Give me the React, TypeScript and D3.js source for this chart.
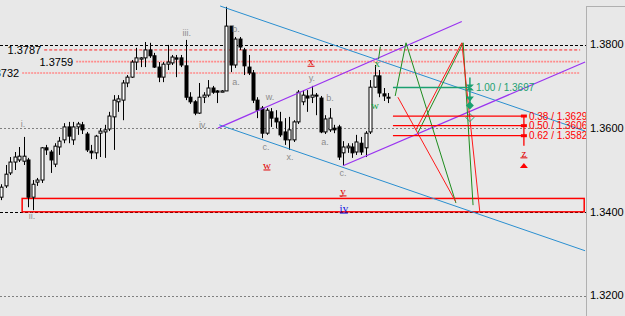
import React from 'react';
import * as d3 from 'd3';

const W = 625;
const H = 316;

// candle OHLC (one bar per period)
const opens = [
  1.3435, 1.3462, 1.3493, 1.3519, 1.3524, 1.3521, 1.3524, 1.3435, 1.3471, 1.3476,
  1.3553, 1.3543, 1.3514, 1.3555, 1.3572, 1.3603, 1.3572, 1.3603, 1.3608, 1.3586,
  1.3545, 1.3541, 1.3588, 1.3591, 1.3598, 1.3627, 1.3663, 1.3667, 1.3708, 1.3722,
  1.3758, 1.3765, 1.3768, 1.3787, 1.3773, 1.3746, 1.3722, 1.3753, 1.3756, 1.3768,
  1.3768, 1.3749, 1.3674, 1.3663, 1.3636, 1.3674, 1.3679, 1.3696, 1.3689, 1.3686,
  1.3689, 1.3844, 1.3751, 1.3813, 1.3787, 1.3746, 1.3732, 1.3667, 1.3648, 1.3588,
  1.3639, 1.3624, 1.3615, 1.3591, 1.3572, 1.3572, 1.3615, 1.3663, 1.3677, 1.3674,
  1.3679, 1.3672, 1.3591, 1.3596, 1.3600, 1.3603, 1.3541, 1.3553, 1.3555, 1.3543,
  1.3564, 1.3553, 1.3591, 1.3698, 1.3725, 1.3682, 1.3674,
];
const highs = [
  1.3466, 1.3512, 1.3531, 1.3543, 1.3555, 1.3579, 1.3529, 1.3476, 1.3481, 1.3555,
  1.3560, 1.3548, 1.3564, 1.3579, 1.3612, 1.3615, 1.3615, 1.3615, 1.3615, 1.3591,
  1.3560, 1.3584, 1.3600, 1.3608, 1.3639, 1.3679, 1.3679, 1.3715, 1.3727, 1.3763,
  1.3792, 1.3770, 1.3806, 1.3804, 1.3780, 1.3758, 1.3758, 1.3799, 1.3775, 1.3775,
  1.3775, 1.3811, 1.3686, 1.3667, 1.3708, 1.3686, 1.3715, 1.3701, 1.3691, 1.3691,
  1.3890, 1.3844, 1.3818, 1.3818, 1.3792, 1.3775, 1.3739, 1.3674, 1.3653, 1.3648,
  1.3648, 1.3643, 1.3639, 1.3624, 1.3627, 1.3619, 1.3691, 1.3691, 1.3691, 1.3701,
  1.3684, 1.3677, 1.3631, 1.3648, 1.3608, 1.3608, 1.3569, 1.3564, 1.3564, 1.3584,
  1.3579, 1.3593, 1.3715, 1.3751, 1.3739, 1.3696, 1.3684,
];
const lows = [
  1.3428, 1.3457, 1.3488, 1.3500, 1.3519, 1.3512, 1.3411, 1.3404, 1.3462, 1.3469,
  1.3536, 1.3493, 1.3507, 1.3536, 1.3564, 1.3564, 1.3560, 1.3584, 1.3586, 1.3543,
  1.3526, 1.3526, 1.3531, 1.3529, 1.3593, 1.3548, 1.3639, 1.3619, 1.3698, 1.3720,
  1.3739, 1.3746, 1.3746, 1.3768, 1.3744, 1.3710, 1.3710, 1.3739, 1.3751, 1.3722,
  1.3746, 1.3667, 1.3658, 1.3631, 1.3634, 1.3660, 1.3674, 1.3682, 1.3660, 1.3686,
  1.3689, 1.3734, 1.3744, 1.3787, 1.3727, 1.3727, 1.3660, 1.3624, 1.3576, 1.3584,
  1.3603, 1.3600, 1.3579, 1.3560, 1.3548, 1.3567, 1.3610, 1.3655, 1.3639, 1.3660,
  1.3631, 1.3588, 1.3586, 1.3591, 1.3588, 1.3524, 1.3512, 1.3541, 1.3529, 1.3536,
  1.3536, 1.3531, 1.3586, 1.3696, 1.3674, 1.3665, 1.3660,
];
const closes = [
  1.3459, 1.3490, 1.3519, 1.3531, 1.3533, 1.3533, 1.3435, 1.3466, 1.3476, 1.3553,
  1.3548, 1.3524, 1.3557, 1.3569, 1.3603, 1.3581, 1.3603, 1.3610, 1.3596, 1.3548,
  1.3541, 1.3581, 1.3593, 1.3596, 1.3629, 1.3667, 1.3670, 1.3708, 1.3722, 1.3758,
  1.3768, 1.3768, 1.3787, 1.3773, 1.3746, 1.3722, 1.3753, 1.3758, 1.3770, 1.3765,
  1.3751, 1.3674, 1.3663, 1.3636, 1.3674, 1.3679, 1.3696, 1.3686, 1.3686, 1.3689,
  1.3844, 1.3751, 1.3813, 1.3794, 1.3749, 1.3732, 1.3667, 1.3643, 1.3588, 1.3643,
  1.3624, 1.3615, 1.3584, 1.3572, 1.3596, 1.3615, 1.3686, 1.3679, 1.3672, 1.3679,
  1.3677, 1.3591, 1.3622, 1.3624, 1.3596, 1.3531, 1.3555, 1.3557, 1.3541, 1.3567,
  1.3543, 1.3588, 1.3698, 1.3725, 1.3684, 1.3677, 1.3674,
];

// price axis ticks
const priceTicks = [1.38, 1.36, 1.34, 1.32];
const blackGrid = [1.38, 1.34];
const grayGrid = [1.36, 1.32];

// labelled horizontal levels: [price, startBar]
const levelPrices = [1.3787, 1.3759, 1.3732];
const levelStarts = [9.6, 16.7, 4.7];
const levelEnd = 128.7;

// support box
const boxBars = [4.7, 129.6];
const boxPrices = [1.3432, 1.34];

// channels: [[bar, price],[bar, price]]
const blueLines = [
  [[48.7, 1.3892], [129.8, 1.3593]],
  [[48.5, 1.3608], [129.8, 1.3307]],
];
const purpleLines = [
  [[48.2, 1.36], [102.4, 1.3855]],
  [[76.0, 1.351], [129.8, 1.3758]],
];
// projection zigzags
const greenPaths = [
  [[87.6, 1.3677], [90.0, 1.3804], [101.1, 1.3421]],
  [[92.6, 1.3588], [102.7, 1.3804], [104.9, 1.3416]],
  [[84.3, 1.3795], [83.9, 1.3765]],
];
const redPaths = [
  [[88.2, 1.3674], [101.0, 1.3425]],
  [[92.2, 1.3596], [102.4, 1.3804], [106.4, 1.34]],
];

// fibonacci retracement (red) and extension (teal)
const fibLevels = ['0.38', '0.50', '0.62'];
const fibPrices = [1.3629, 1.3606, 1.3582];
const fibBars = [87.1, 116.2];
const extLevel = '1.00';
const extPrice = 1.3697;
const extBars = [87.1, 104.2];

// wave labels [bar, price, text]
const grayLabels: [number, number, string][] = [
  [4.9, 1.361, 'i.'],
  [6.9, 1.339, 'ii.'],
  [41.3, 1.3827, 'iii.'],
  [44.9, 1.3608, 'iv.'],
  [52.2, 1.3837, 'b.'],
  [52.2, 1.371, 'a.'],
  [59.8, 1.3674, 'w.'],
  [58.9, 1.3555, 'c.'],
  [64.2, 1.3531, 'x.'],
  [69.1, 1.372, 'y.'],
  [73.1, 1.3672, 'b.'],
  [72.0, 1.3567, 'a.'],
  [76.0, 1.3493, 'c.'],
];
const redLabels: [number, number, string][] = [
  [59.1, 1.3512, 'w'],
  [76.0, 1.345, 'y'],
  [68.9, 1.376, 'x'],
  [116.2, 1.3541, 'z'],
];
const blueLabels: [number, number, string][] = [[76.2, 1.3409, 'iv']];
const greenLabels: [number, number, string][] = [
  [83.6, 1.3756, 'x'],
  [83.1, 1.3655, 'w'],
];

const x = d3.scaleLinear().domain([0, 86]).range([1, 388]);
const y = d3.scaleLinear().domain([1.32, 1.38]).range([295.5, 44.5]);

const BLUE = '#2a8fd0';
const PURPLE = '#9a34f0';
const GREEN = '#1e8c1e';
const RED = '#ff1a1a';
const TEAL = '#1aa070';
const SANS = "'Liberation Sans', Arial, sans-serif";
const SERIF = "'Liberation Serif', 'Times New Roman', serif";

export default function App() {
  const line = d3
    .line<number[]>()
    .x((d) => x(d[0]))
    .y((d) => y(d[1]));
  const axisX = 586.5;
  const fx = x(fibBars[1]);
  const ex = x(extBars[1]);
  return (
    <svg
      width={W}
      height={H}
      style={{ position: 'absolute', left: 0, top: 0, background: '#e8e8e8' }}
    >
      <rect x={0} y={0} width={W} height={H} fill="#e8e8e8" />
      {/* grid */}
      {blackGrid.map((p) => (
        <line key={'bg' + p} x1={0} x2={axisX} y1={Math.round(y(p)) + 0.5} y2={Math.round(y(p)) + 0.5}
          stroke="#000" strokeWidth={1} strokeDasharray="3,2" />
      ))}
      {grayGrid.map((p) => (
        <line key={'gg' + p} x1={0} x2={axisX} y1={Math.round(y(p)) + 0.5} y2={Math.round(y(p)) + 0.5}
          stroke="#808080" strokeWidth={1} strokeDasharray="2,2" />
      ))}
      {/* labelled levels */}
      {levelPrices.map((p, i) => (
        <g key={'lv' + i}>
          <line x1={x(levelStarts[i])} x2={x(levelEnd)} y1={y(p)} y2={y(p)}
            stroke={i === 0 ? '#ff2020' : '#ff8a8a'} strokeWidth={i === 0 ? 1 : 1.6}
            strokeDasharray={i === 0 ? '3,2' : '2,1'} />
          <text x={x(levelStarts[i]) - 3} y={y(p)} dy="0.35em" textAnchor="end"
            fontFamily={SANS} fontSize={11} fill="#000">{p.toFixed(4)}</text>
        </g>
      ))}
      {/* box */}
      <rect x={x(boxBars[0])} y={y(boxPrices[0])} width={x(boxBars[1]) - x(boxBars[0])}
        height={y(boxPrices[1]) - y(boxPrices[0])} fill="none" stroke="#ff0000" strokeWidth={1.5} />
      {/* candles */}
      {opens.map((o, i) => {
        const c = closes[i];
        const cx = Math.round(x(i)) + 0.5;
        const top = Math.min(y(o), y(c));
        const bh = Math.max(1, Math.abs(y(o) - y(c)));
        const up = c >= o;
        return (
          <g key={'c' + i}>
            <line x1={cx} x2={cx} y1={y(highs[i])} y2={y(lows[i])} stroke="#000" strokeWidth={1} />
            <rect x={cx - 1.5} y={top} width={3} height={bh} fill={up ? '#fff' : '#000'}
              stroke="#000" strokeWidth={1} />
          </g>
        );
      })}
      {/* channels */}
      {blueLines.map((l, i) => (
        <path key={'bl' + i} d={line(l) || ''} stroke={BLUE} strokeWidth={1} fill="none" />
      ))}
      {purpleLines.map((l, i) => (
        <path key={'pl' + i} d={line(l) || ''} stroke={PURPLE} strokeWidth={1.2} fill="none" />
      ))}
      {greenPaths.map((l, i) => (
        <path key={'gp' + i} d={line(l) || ''} stroke={GREEN} strokeWidth={1} fill="none" />
      ))}
      {redPaths.map((l, i) => (
        <path key={'rp' + i} d={line(l) || ''} stroke={RED} strokeWidth={1} fill="none" />
      ))}
      {/* extension fib (teal) */}
      <line x1={x(extBars[0])} x2={ex} y1={y(extPrice)} y2={y(extPrice)} stroke={TEAL} strokeWidth={1.5} />
      <line x1={ex} x2={ex} y1={y(extPrice) - 10} y2={y(extPrice) + 20} stroke={TEAL} strokeWidth={1.5} />
      <path d={`M${ex - 4},${y(extPrice) - 3}h8l-4,4z M${ex - 4},${y(extPrice) + 3}h8l-4,-4z`} fill={TEAL} />
      <path d={`M${ex - 4},${y(extPrice) + 9}h8l-4,5z`} fill={TEAL} />
      <path d={`M${ex},${y(extPrice) + 14}l4,4l-4,4l-4,-4z`} fill={TEAL} />
      <path d={`M${ex},${y(extPrice) + 26}l4,4l-4,4l-4,-4z`} fill="none" stroke={TEAL} strokeWidth={1} />
      <text x={ex + 6} y={y(extPrice)} dy="0.35em" fontFamily={SANS} fontSize={10} fill={TEAL}>
        {extLevel} / {extPrice.toFixed(4)}
      </text>
      {/* retracement fib (red) */}
      {fibPrices.map((p, i) => (
        <g key={'fb' + i}>
          <line x1={x(fibBars[0])} x2={fx} y1={y(p)} y2={y(p)} stroke="#ff0000" strokeWidth={1.3} />
          <rect x={fx - 3} y={y(p) - 1.5} width={6} height={3} fill="#ff0000" />
          <text x={fx + 5} y={y(p)} dy="0.35em" fontFamily={SANS} fontSize={10} fill="#ff0000">
            {fibLevels[i]} / {p.toFixed(4)}
          </text>
        </g>
      ))}
      <line x1={fx} x2={fx} y1={y(fibPrices[0])} y2={y(fibPrices[2]) + 10} stroke="#ff0000" strokeWidth={1.3} />
      <path d={`M${fx - 4},${y(1.3512) + 3}h8l-4,-5z`} fill="#ff0000" />
      {/* labels */}
      {grayLabels.map(([b, p, t], i) => (
        <text key={'gl' + i} x={x(b)} y={y(p)} dy="0.35em" textAnchor="middle" fontFamily={SANS}
          fontSize={9} fill="#8c8c8c">{t}</text>
      ))}
      {redLabels.map(([b, p, t], i) => (
        <g key={'rl' + i}>
          <text x={x(b)} y={y(p)} dy="0.35em" textAnchor="middle" fontFamily={SERIF} fontSize={11}
            fill="#e00000">{t}</text>
          <line x1={x(b) - 3.5} x2={x(b) + 3.5} y1={y(p) + 5} y2={y(p) + 5} stroke="#e00000" strokeWidth={1} />
        </g>
      ))}
      {blueLabels.map(([b, p, t], i) => (
        <g key={'bll' + i}>
          <text x={x(b)} y={y(p)} dy="0.35em" textAnchor="middle" fontFamily={SERIF} fontSize={11}
            fill="#1010e0">{t}</text>
          <line x1={x(b) - 4} x2={x(b) + 4} y1={y(p) + 5} y2={y(p) + 5} stroke="#1010e0" strokeWidth={1} />
        </g>
      ))}
      {greenLabels.map(([b, p, t], i) => (
        <text key={'grl' + i} x={x(b)} y={y(p)} dy="0.35em" textAnchor="middle" fontFamily={SERIF}
          fontSize={11} fill="#18a040">{t}</text>
      ))}
      {/* right price axis */}
      <line x1={axisX} x2={axisX} y1={6} y2={H} stroke="#b0b0b0" />
      <line x1={axisX} x2={W} y1={6.5} y2={6.5} stroke="#b0b0b0" />
      {priceTicks.map((p) => (
        <text key={'pt' + p} x={590} y={y(p)} dy="0.35em" fontFamily={SANS} fontSize={11} fill="#000">
          {p.toFixed(4)}
        </text>
      ))}
    </svg>
  );
}
